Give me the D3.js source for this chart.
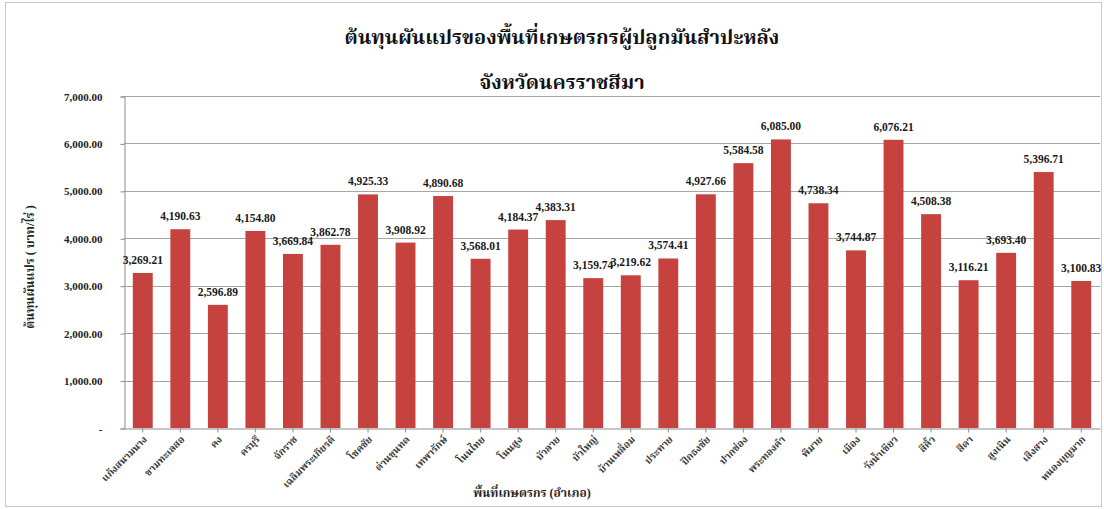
<!DOCTYPE html>
<html>
<head>
<meta charset="utf-8">
<script src="https://cdn.jsdelivr.net/npm/d3@7/dist/d3.min.js"></script>
<style>
  html, body { margin: 0; padding: 0; background: #fff; }
  svg { display: block; }
  text { font-family: "Liberation Serif", "Times New Roman", "Noto Serif Thai", "Noto Sans Thai", "Garuda", "Loma", serif; font-weight: bold; }
</style>
</head>
<body>
<svg id="chart" width="1104" height="509"></svg>
<script>
// Districts (อำเภอ) of Nakhon Ratchasima
const districts = [
  "แก้งสนามนาง", "ขามทะเลสอ", "คง", "ครบุรี", "จักราช", "เฉลิมพระเกียรติ",
  "โชคชัย", "ด่านขุนทด", "เทพารักษ์", "โนนไทย", "โนนสูง", "บัวลาย",
  "บัวใหญ่", "บ้านเหลื่อม", "ประทาย", "ปักธงชัย", "ปากช่อง", "พระทองคำ",
  "พิมาย", "เมือง", "วังน้ำเขียว", "สีคิ้ว", "สีดา", "สูงเนิน",
  "เสิงสาง", "หนองบุญมาก"
];

// Variable cost (baht per rai)
const variableCost = [
  3269.21, 4190.63, 2596.89, 4154.80, 3669.84, 3862.78,
  4925.33, 3908.92, 4890.68, 3568.01, 4184.37, 4383.31,
  3159.74, 3219.62, 3574.41, 4927.66, 5584.58, 6085.00,
  4738.34, 3744.87, 6076.21, 4508.38, 3116.21, 3693.40,
  5396.71, 3100.83
];

const yTicks = [0, 1000, 2000, 3000, 4000, 5000, 6000, 7000];

const titleLines = ["ต้นทุนผันแปรของพื้นที่เกษตรกรผู้ปลูกมันสำปะหลัง", "จังหวัดนครราชสีมา"];
const yTitle = "ต้นทุนผันแปร ( บาท/ไร่ )";
const xTitle = "พื้นที่เกษตรกร (อำเภอ)";

const svg = d3.select("#chart");
const W = 1104, H = 509;
const plot = { left: 124, right: 1100, top: 96, bottom: 428 };

// outer chart frame
svg.append("rect")
  .attr("x", 5.5).attr("y", 2.5)
  .attr("width", W - 8).attr("height", H - 5)
  .attr("fill", "#fff").attr("stroke", "#c8c8c8").attr("stroke-width", 1);

const x = d3.scaleBand()
  .domain(districts)
  .range([plot.left, plot.right])
  .paddingInner(0.47)
  .paddingOuter(0.235);

const y = d3.scaleLinear()
  .domain([0, 7000])
  .range([plot.bottom, plot.top]);

// horizontal gridlines
svg.append("g")
  .selectAll("line")
  .data(yTicks.filter(d => d > 0))
  .join("line")
  .attr("x1", plot.left).attr("x2", plot.right)
  .attr("y1", d => Math.round(y(d)) + 0.5)
  .attr("y2", d => Math.round(y(d)) + 0.5)
  .attr("stroke", "#a6a6a6").attr("stroke-width", 1);

// y axis
const yAxis = d3.axisLeft(y)
  .tickValues(yTicks)
  .tickSize(4)
  .tickPadding(18)
  .tickFormat(d => d === 0 ? "-" : d3.format(",.2f")(d));

const gy = svg.append("g")
  .attr("transform", `translate(${plot.left + 0.5},0.5)`)
  .call(yAxis);
gy.select(".domain").attr("stroke", "#8c8c8c");
gy.selectAll(".tick line").attr("stroke", "#8c8c8c");
gy.selectAll(".tick text")
  .attr("fill", "#222").attr("font-size", 11);

const rows = districts.map((d, i) => ({ name: d, value: variableCost[i] }));

// bars
svg.append("g")
  .selectAll("rect")
  .data(rows)
  .join("rect")
  .attr("x", d => x(d.name))
  .attr("y", d => y(d.value))
  .attr("width", x.bandwidth())
  .attr("height", d => y(0) - y(d.value))
  .attr("fill", "#c6423f");

// value labels
svg.append("g")
  .selectAll("text")
  .data(rows)
  .join("text")
  .attr("x", d => x(d.name) + x.bandwidth() / 2)
  .attr("y", d => y(d.value) - 9)
  .attr("text-anchor", "middle")
  .attr("font-size", 11.5)
  .attr("fill", "#1a1a1a")
  .text(d => d3.format(",.2f")(d.value));

// x axis line and ticks
const xAxis = d3.axisBottom(x).tickSize(4).tickSizeOuter(0).tickFormat("");
const gx = svg.append("g")
  .attr("transform", `translate(0,${plot.bottom + 0.5})`)
  .call(xAxis);
gx.select(".domain").attr("stroke", "#8c8c8c");
gx.selectAll(".tick line").attr("stroke", "#8c8c8c");

// slanted district labels, each in its own rotated group
const labelLayer = svg.append("g").attr("class", "district-labels");
districts.forEach(name => {
  const cx = x(name) + x.bandwidth() / 2 + 5;
  const cy = plot.bottom + 12;
  labelLayer.append("g")
    .attr("transform", `translate(${cx},${cy})`)
    .append("g")
    .attr("transform", "rotate(-45)")
    .append("text")
    .attr("x", 0).attr("y", 0)
    .attr("text-anchor", "end")
    .attr("font-size", 10)
    .attr("fill", "#333")
    .text(name);
});

// titles
svg.append("g")
  .selectAll("text")
  .data(titleLines)
  .join("text")
  .attr("x", 562)
  .attr("y", (d, i) => 44 + i * 45)
  .attr("text-anchor", "middle")
  .attr("font-size", 20)
  .attr("fill", "#111")
  .text(d => d);

svg.append("text")
  .attr("transform", `translate(34,${(plot.top + plot.bottom) / 2 + 5}) rotate(-90)`)
  .attr("text-anchor", "middle")
  .attr("font-size", 12)
  .attr("fill", "#222")
  .text(yTitle);

svg.append("text")
  .attr("x", 532)
  .attr("y", 497)
  .attr("text-anchor", "middle")
  .attr("font-size", 12)
  .attr("fill", "#222")
  .text(xTitle);
</script>
</body>
</html>
